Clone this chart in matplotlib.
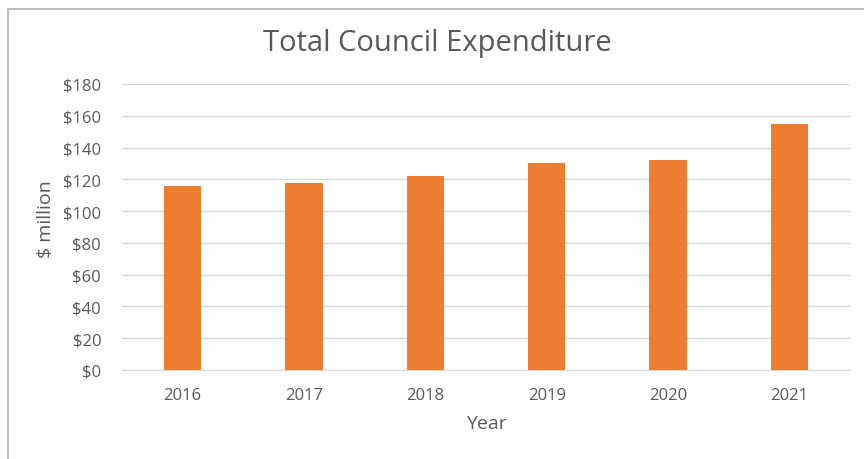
import matplotlib.pyplot as plt
from matplotlib.patches import Rectangle
from matplotlib.ticker import FuncFormatter

years = ["2016", "2017", "2018", "2019", "2020", "2021"]
expenditure = [116, 118, 122, 130, 132, 155]  # $ million

plt.rcParams['font.family'] = ['Open Sans', 'DejaVu Sans']
text_col = '#595959'
grid_col = '#D9D9D9'
bar_col = '#ED7D31'

fig = plt.figure(figsize=(8.64, 4.6), dpi=100)
# light frame around the chart area
fig.patches.append(Rectangle((8 / 864, -0.01), 1.0, 1.0 - 10 / 460 + 0.01,
                             transform=fig.transFigure, fill=False,
                             edgecolor='#BFBFBF', linewidth=1.5))

ax = fig.add_axes([122 / 864, 1 - 371 / 460, 728 / 864, 286 / 460])
ax.bar(years, expenditure, width=0.31, color=bar_col, zorder=3)

ax.set_ylim(0, 180)
ax.set_yticks(range(0, 181, 20))
ax.yaxis.set_major_formatter(FuncFormatter(lambda v, p: f"${v:.0f}"))
ax.set_xlim(-0.5, len(years) - 0.5)

ax.grid(axis='y', color=grid_col, linewidth=1, zorder=0)
for s in ['top', 'right', 'left']:
    ax.spines[s].set_visible(False)
ax.spines['bottom'].set_color(grid_col)
ax.tick_params(axis='both', length=0, labelsize=12, labelcolor=text_col)
ax.tick_params(axis='y', pad=15)
ax.tick_params(axis='x', pad=12)

ax.set_ylabel("$ million", fontsize=14, color=text_col)
ax.yaxis.set_label_coords(-0.092, 0.53)
ax.set_xlabel("Year", fontsize=14, color=text_col)
ax.xaxis.set_label_coords(0.5, -0.155)

fig.text(437 / 864, 1 - 43 / 460, "Total Council Expenditure", fontsize=21,
         color=text_col, ha='center', va='center')

fig.savefig("out.png", dpi=100)
